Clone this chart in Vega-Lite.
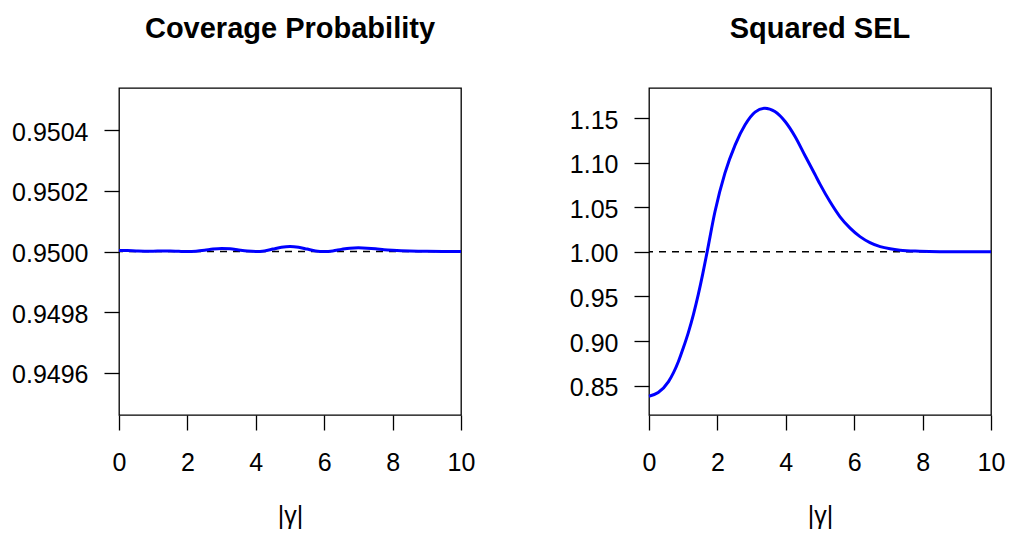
{
  "$schema": "https://vega.github.io/schema/vega-lite/v6.json",
  "background": "white",
  "padding": {"left": 10, "top": 14, "right": 2, "bottom": 2},
  "bounds": "flush",
  "spacing": 188,
  "config": {
    "font": "Liberation Sans",
    "view": {"stroke": "black", "strokeWidth": 1.3},
    "axis": {
      "grid": false, "domain": false,
      "tickColor": "black", "tickWidth": 1.3, "tickSize": 15,
      "labelFont": "Liberation Sans", "labelFontSize": 25, "labelColor": "black",
      "labelFlush": false, "labelOverlap": false, "labelBound": false,
      "titleFont": "Liberation Sans", "titleFontSize": 25, "titleFontWeight": "normal", "titleColor": "black"
    },
    "axisX": {"labelPadding": 20, "titlePadding": 28},
    "axisY": {"labelPadding": 16, "labelOffset": 2},
    "title": {"font": "Liberation Sans", "fontSize": 29, "fontWeight": "bold", "color": "black", "anchor": "middle", "baseline": "alphabetic", "offset": 44}
  },
  "datasets": {
    "cp": [
      {"x": 0, "v": 0.9500035}, {"x": 0.25, "v": 0.950003}, {"x": 0.5, "v": 0.950002}, {"x": 0.75, "v": 0.9500012},
      {"x": 1.0, "v": 0.950001}, {"x": 1.25, "v": 0.9500015}, {"x": 1.5, "v": 0.9500014}, {"x": 1.75, "v": 0.9500006},
      {"x": 2.0, "v": 0.95}, {"x": 2.25, "v": 0.950001}, {"x": 2.5, "v": 0.950004}, {"x": 2.75, "v": 0.950008},
      {"x": 3.0, "v": 0.95001}, {"x": 3.25, "v": 0.950009}, {"x": 3.5, "v": 0.950005}, {"x": 3.75, "v": 0.9500015},
      {"x": 4.0, "v": 0.95}, {"x": 4.25, "v": 0.950002}, {"x": 4.5, "v": 0.950008}, {"x": 4.75, "v": 0.950014},
      {"x": 5.0, "v": 0.9500165}, {"x": 5.25, "v": 0.950014}, {"x": 5.5, "v": 0.950008}, {"x": 5.75, "v": 0.950002},
      {"x": 6.0, "v": 0.95}, {"x": 6.25, "v": 0.950002}, {"x": 6.5, "v": 0.950007}, {"x": 6.75, "v": 0.950011},
      {"x": 7.0, "v": 0.950012}, {"x": 7.25, "v": 0.950011}, {"x": 7.5, "v": 0.950009}, {"x": 7.75, "v": 0.950006},
      {"x": 8.0, "v": 0.950004}, {"x": 8.25, "v": 0.9500025}, {"x": 8.5, "v": 0.9500015}, {"x": 8.75, "v": 0.9500008},
      {"x": 9.0, "v": 0.9500005}, {"x": 9.5, "v": 0.9500002}, {"x": 10, "v": 0.95}
    ],
    "sel": [
      {"x": 0, "v": 0.8382}, {"x": 0.27, "v": 0.8423}, {"x": 0.57, "v": 0.8545}, {"x": 0.86, "v": 0.877},
      {"x": 1.0, "v": 0.892}, {"x": 1.15, "v": 0.9095}, {"x": 1.3, "v": 0.930}, {"x": 1.44, "v": 0.952},
      {"x": 1.57, "v": 0.975}, {"x": 1.7, "v": 1.0}, {"x": 1.93, "v": 1.0452},
      {"x": 2.22, "v": 1.0882}, {"x": 2.52, "v": 1.12}, {"x": 2.81, "v": 1.1424}, {"x": 3.1, "v": 1.1566},
      {"x": 3.39, "v": 1.1611}, {"x": 3.68, "v": 1.1573}, {"x": 3.98, "v": 1.1461}, {"x": 4.27, "v": 1.1293},
      {"x": 4.56, "v": 1.108}, {"x": 4.85, "v": 1.087}, {"x": 5.0, "v": 1.0759}, {"x": 5.29, "v": 1.0564},
      {"x": 5.58, "v": 1.0396}, {"x": 5.88, "v": 1.0266}, {"x": 6.17, "v": 1.0171}, {"x": 6.46, "v": 1.0104},
      {"x": 6.76, "v": 1.0059}, {"x": 7.05, "v": 1.0034}, {"x": 7.34, "v": 1.0019}, {"x": 7.92, "v": 1.0008},
      {"x": 8.5, "v": 1.0002}, {"x": 9.0, "v": 1.0}, {"x": 10, "v": 1.0}
    ],
    "refcp": [{"ref": 0.95}],
    "refsel": [{"ref": 1.0}]
  },
  "hconcat": [
    {
      "title": {"text": "Coverage Probability"},
      "width": 342,
      "height": 327,
      "layer": [
        {
          "data": {"name": "refcp"},
          "mark": {"type": "rule", "color": "black", "strokeWidth": 1.5, "strokeDash": [7, 6]},
          "encoding": {"y": {"field": "ref", "type": "quantitative", "scale": {"domain": [0.94946, 0.95054], "nice": false, "zero": false}}}
        },
        {
          "data": {"name": "cp"},
          "mark": {"type": "line", "color": "#0000ff", "strokeWidth": 3, "interpolate": "monotone"},
          "encoding": {
            "x": {"field": "x", "type": "quantitative", "scale": {"domain": [0, 10], "nice": false, "zero": false},
                  "axis": {"values": [0, 2, 4, 6, 8, 10], "format": "d", "title": "|γ|"}},
            "y": {"field": "v", "type": "quantitative", "scale": {"domain": [0.94946, 0.95054], "nice": false, "zero": false},
                  "axis": {"values": [0.9496, 0.9498, 0.95, 0.9502, 0.9504], "format": ".4f", "title": null}}
          }
        }
      ]
    },
    {
      "title": {"text": "Squared SEL"},
      "width": 342,
      "height": 327,
      "layer": [
        {
          "data": {"name": "refsel"},
          "mark": {"type": "rule", "color": "black", "strokeWidth": 1.5, "strokeDash": [7, 6]},
          "encoding": {"y": {"field": "ref", "type": "quantitative", "scale": {"domain": [0.8171, 1.1837], "nice": false, "zero": false}}}
        },
        {
          "data": {"name": "sel"},
          "mark": {"type": "line", "color": "#0000ff", "strokeWidth": 3, "interpolate": "monotone"},
          "encoding": {
            "x": {"field": "x", "type": "quantitative", "scale": {"domain": [0, 10], "nice": false, "zero": false},
                  "axis": {"values": [0, 2, 4, 6, 8, 10], "format": "d", "title": "|γ|"}},
            "y": {"field": "v", "type": "quantitative", "scale": {"domain": [0.8171, 1.1837], "nice": false, "zero": false},
                  "axis": {"values": [0.85, 0.9, 0.95, 1.0, 1.05, 1.1, 1.15], "format": ".2f", "title": null}}
          }
        }
      ]
    }
  ]
}
